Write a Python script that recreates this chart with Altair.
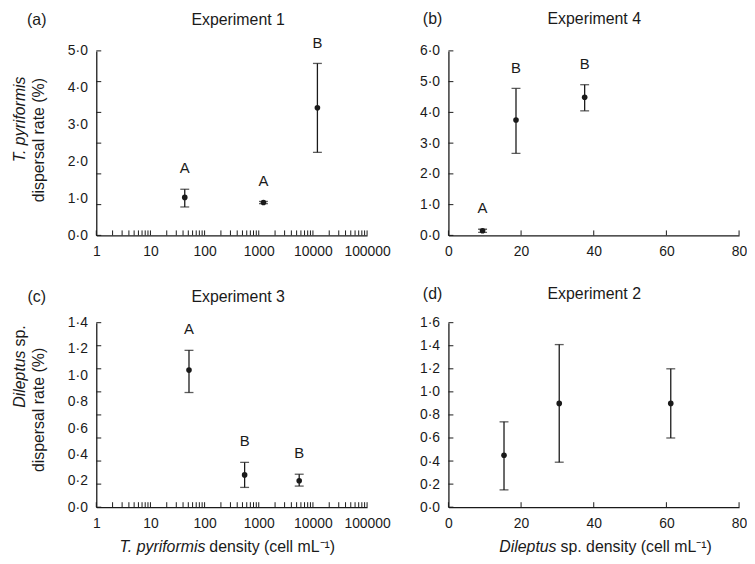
import altair as alt
import pandas as pd

FONT = "Liberation Sans"
INK = "#1a1a1a"
W1, W2, H = 273, 293, 186
GAP = 4  # word space between mixed-style title parts

# ---------------- data ----------------
# Experiment 1 : T. pyriformis dispersal vs T. pyriformis density (log x)
exp1_density = [43, 1220, 12100]
exp1_rate = [1.03, 0.89, 3.46]
exp1_low = [0.77, 0.86, 2.25]
exp1_high = [1.25, 0.92, 4.66]
exp1_group = ["A", "A", "B"]

# Experiment 4 : T. pyriformis dispersal vs Dileptus density
exp4_density = [9.4, 18.6, 37.5]
exp4_rate = [0.15, 3.75, 4.49]
exp4_low = [0.10, 2.67, 4.05]
exp4_high = [0.20, 4.78, 4.90]
exp4_group = ["A", "B", "B"]

# Experiment 3 : Dileptus dispersal vs T. pyriformis density (log x)
exp3_density = [51.5, 548, 5580]
exp3_rate = [1.04, 0.245, 0.20]
exp3_low = [0.87, 0.15, 0.16]
exp3_high = [1.19, 0.34, 0.25]
exp3_group = ["A", "B", "B"]

# Experiment 2 : Dileptus dispersal vs Dileptus density
exp2_density = [15.3, 30.5, 61.2]
exp2_rate = [0.45, 0.90, 0.90]
exp2_low = [0.15, 0.39, 0.60]
exp2_high = [0.74, 1.41, 1.20]
exp2_group = ["", "", ""]

# axis labels and tick marks
log_labels = [1, 10, 100, 1000, 10000, 100000]
log_ticks = [1, 2, 3, 4, 5, 6, 7, 8, 9,
             10, 20, 30, 40, 50, 60, 70, 80, 90,
             100, 200, 300, 400, 500, 600, 700, 800, 900,
             1000, 2000, 3000, 4000, 5000, 6000, 7000, 8000, 9000,
             10000, 20000, 30000, 40000, 50000, 60000, 70000, 80000, 90000,
             100000]
lin_labels = [0, 20, 40, 60, 80]

exp1_ylabels = [0, 1, 2, 3, 4, 5]
exp1_yticks = [0, 0.8333, 1.6667, 2.5, 3.3333, 4.1667, 5]
exp4_ylabels = [0, 1, 2, 3, 4, 5, 6]
exp3_ylabels = [0, 0.2, 0.4, 0.6, 0.8, 1.0, 1.2, 1.4]
exp3_yticks = [0, 0.175, 0.35, 0.525, 0.7, 0.875, 1.05, 1.225, 1.4]
exp2_ylabels = [0, 0.2, 0.4, 0.6, 0.8, 1.0, 1.2, 1.4, 1.6]

YFMT = "replace(format(datum.value, '.1f'), '.', '·')"


def text(t, x, y, size=16, style="normal", align="center", angle=0):
    return alt.Chart(pd.DataFrame({"t": [t]})).mark_text(
        font=FONT, fontSize=size, fontStyle=style, align=align,
        baseline="middle", angle=angle, color=INK
    ).encode(text="t:N", x=alt.value(x), y=alt.value(y))


def panel(density, rate, low, high, groups, logx, ydom, ylabels, yticks,
          width, notes):
    if logx:
        xscale = alt.Scale(type="log", domain=[1, 100000], nice=False)
        xlabels, xticks = log_labels, log_ticks
    else:
        xscale = alt.Scale(domain=[0, 80], nice=False, zero=True)
        xlabels, xticks = lin_labels, lin_labels
    yscale = alt.Scale(domain=ydom, nice=False, zero=True)

    xaxis = alt.Axis(values=xlabels, labelExpr="format(datum.value, 'd')",
                     ticks=False, tickSize=0, grid=False, domain=True,
                     domainColor=INK, domainWidth=1.3,
                     labelFont=FONT, labelFontSize=14, labelColor=INK,
                     labelPadding=9, labelFlush=False, labelOverlap=False,
                     title=None)
    yaxis = alt.Axis(values=ylabels, labelExpr=YFMT, ticks=False, tickSize=0,
                     grid=False, domain=True, domainColor=INK, domainWidth=1.3,
                     labelFont=FONT, labelFontSize=14, labelColor=INK,
                     labelPadding=9, labelOverlap=False, title=None)

    def X(f):
        return alt.X(f, type="quantitative", scale=xscale, axis=xaxis)

    def Y(f):
        return alt.Y(f, type="quantitative", scale=yscale, axis=yaxis)

    pts = pd.DataFrame({"d": density, "r": rate, "lo": low, "hi": high,
                        "g": groups})
    base = alt.Chart(pts)
    whisk = base.mark_rule(color=INK, strokeWidth=1.3).encode(
        x=X("d"), y=Y("lo"), y2="hi:Q")
    cap_lo = base.mark_tick(color=INK, thickness=1.3, size=9,
                            orient="horizontal").encode(x=X("d"), y=Y("lo"))
    cap_hi = base.mark_tick(color=INK, thickness=1.3, size=9,
                            orient="horizontal").encode(x=X("d"), y=Y("hi"))
    dots = base.mark_circle(size=32, color=INK, opacity=1).encode(
        x=X("d"), y=Y("r"))
    letters = base.mark_text(font=FONT, fontSize=15, color=INK, dy=-21,
                             baseline="middle").encode(
        x=X("d"), y=Y("hi"), text="g:N")
    xt = alt.Chart(pd.DataFrame({"t": xticks})).mark_rule(
        color=INK, strokeWidth=1).encode(
        x=X("t"), y=alt.value(H), y2=alt.value(H - 5))
    yt = alt.Chart(pd.DataFrame({"t": yticks})).mark_rule(
        color=INK, strokeWidth=1).encode(
        y=Y("t"), x=alt.value(0), x2=alt.value(5))
    layers = [whisk, cap_lo, cap_hi, dots, letters, xt, yt] + notes
    return alt.layer(*layers).properties(width=width, height=H)


pa = panel(exp1_density, exp1_rate, exp1_low, exp1_high, exp1_group, True,
           [0, 5], exp1_ylabels, exp1_yticks, W1, [
               text("(a)", -60, -31),
               text("Experiment 1", 143, -31),
               text("T. pyriformis", -77, 69, style="italic", angle=270),
               text("dispersal rate (%)", -58, 90, angle=270),
           ])
pb = panel(exp4_density, exp4_rate, exp4_low, exp4_high, exp4_group, False,
           [0, 6], exp4_ylabels, exp4_ylabels, W2, [
               text("(b)", -16, -32),
               text("Experiment 4", 147, -32),
           ])
pc = panel(exp3_density, exp3_rate, exp3_low, exp3_high, exp3_group, True,
           [0, 1.4], exp3_ylabels, exp3_yticks, W1, [
               text("(c)", -60, -26),
               text("Experiment 3", 143, -26),
               text("Dileptus", -77, 28, style="italic", align="right", angle=270),
               text("sp.", -77, 28 - GAP, align="left", angle=270),
               text("dispersal rate (%)", -58, 88, angle=270),
               text("T. pyriformis", 110, 226, style="italic", align="right"),
               text("density (cell mL⁻¹)", 110 + GAP, 226, align="left"),
           ])
pd_ = panel(exp2_density, exp2_rate, exp2_low, exp2_high, exp2_group, False,
            [0, 1.6], exp2_ylabels, exp2_ylabels, W2, [
                text("(d)", -16, -29),
                text("Experiment 2", 147, -29),
                text("Dileptus", 109, 226, style="italic", align="right"),
                text("sp. density (cell mL⁻¹)", 109 + GAP, 226, align="left"),
            ])

chart = alt.concat(pa, pb, pc, pd_, columns=2,
                   spacing=alt.RowColnumber(row=88, column=82),
                   bounds="flush").properties(
    padding={"left": 4, "top": 1, "right": 0, "bottom": 0},
    background="white",
).configure_view(stroke=None)

chart.save("out.html", embed_options={"renderer": "svg", "actions": False})
